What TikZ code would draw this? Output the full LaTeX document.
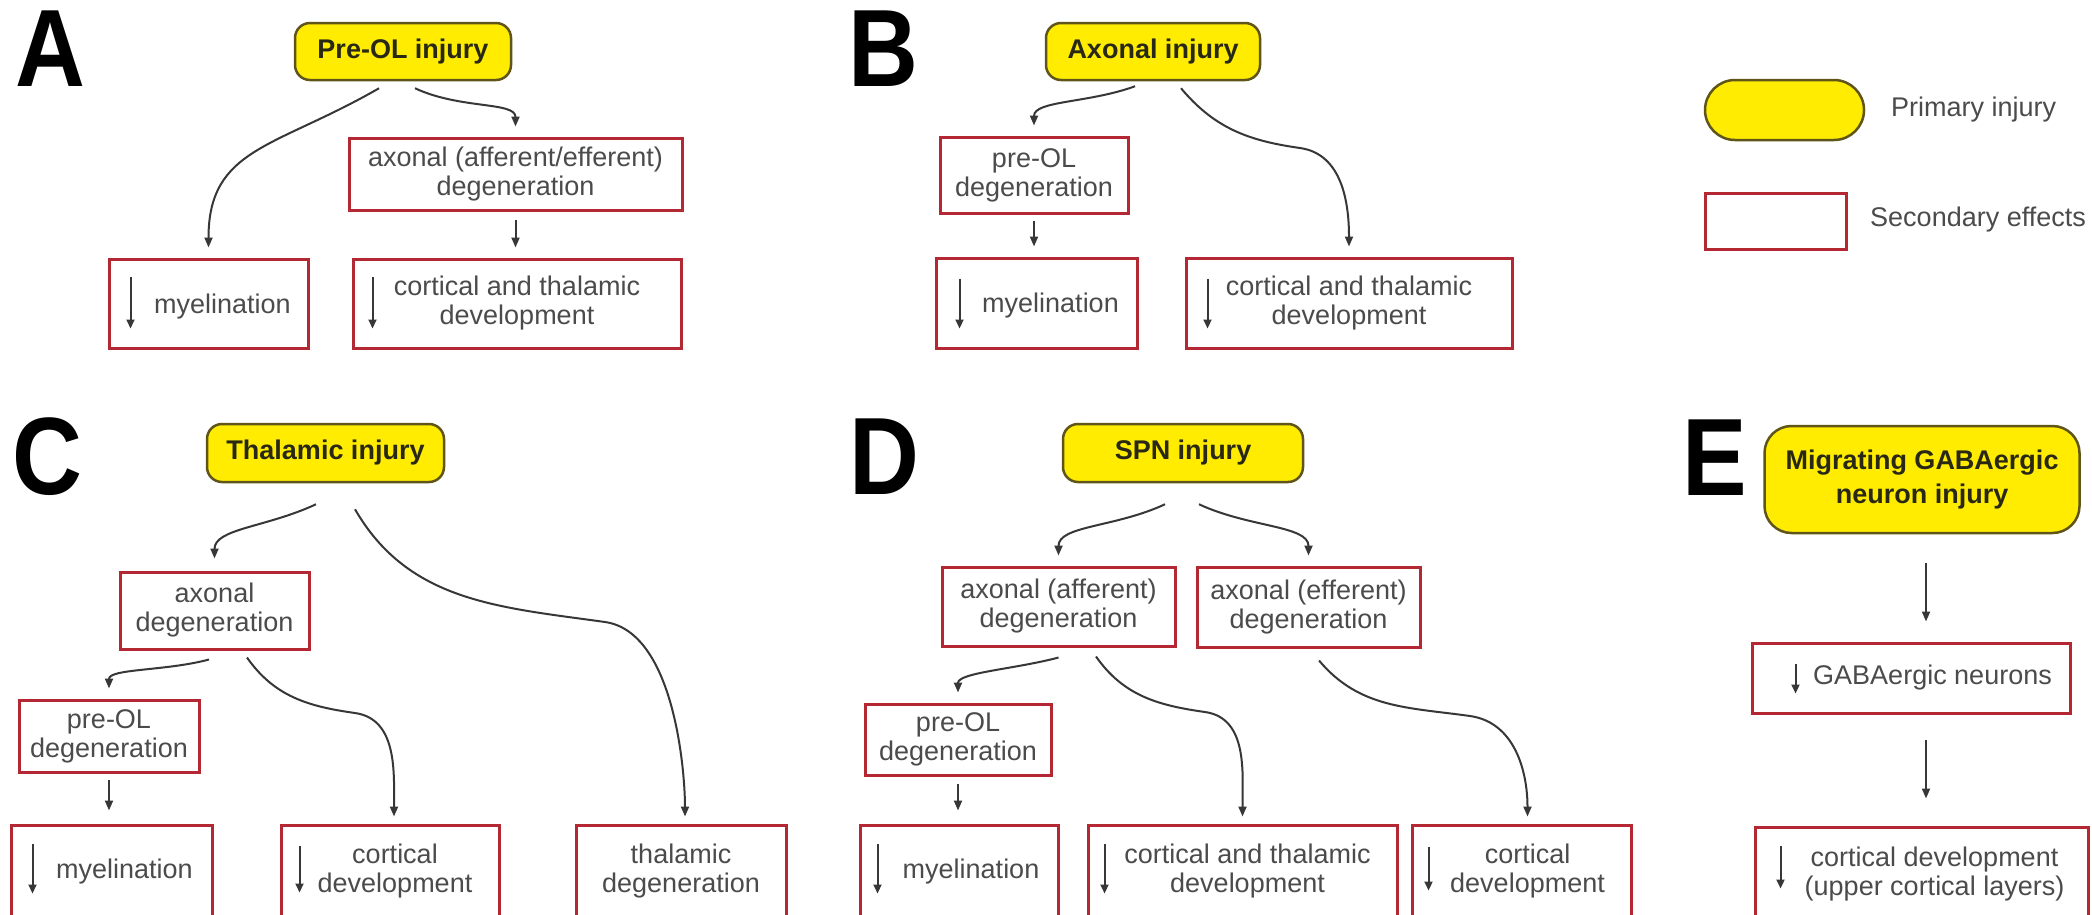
\documentclass[tikz,border=0pt]{standalone}
\usepackage{fontspec}
\usepackage{graphicx}
\setmainfont{Liberation Sans}
\usetikzlibrary{arrows.meta,calc}
\definecolor{boxred}{RGB}{180,40,52}
\definecolor{yfill}{RGB}{255,236,0}
\definecolor{ydraw}{RGB}{95,85,25}
\definecolor{txtgray}{RGB}{75,75,75}
\definecolor{ytext}{RGB}{40,40,20}
\definecolor{conncol}{RGB}{55,55,55}
\begin{document}
\begin{tikzpicture}[x=1pt,y=-1pt,
  prim/.style={draw=ydraw, fill=yfill, line width=2.5pt, rounded corners=15pt, font=\fontsize{27}{34}\selectfont\bfseries, text=ytext, align=center, inner sep=0pt},
  sec/.style={draw=boxred, line width=3pt, font=\fontsize{27}{29}\selectfont, text=txtgray, align=center, inner sep=0pt},
  txt/.style={font=\fontsize{27}{29}\selectfont, text=txtgray, align=center, inner sep=0pt},
  letter/.style={font=\fontsize{110}{110}\selectfont\bfseries, inner sep=0pt},
  arr/.style={draw=conncol, line width=2pt, -{Triangle[length=10pt,width=8pt]}},
  darr/.style={draw=conncol, line width=2pt, -{Triangle[length=9pt,width=8pt]}},
]
\fill[white] (0,0) rectangle (2092,914);
\useasboundingbox (0,0) rectangle (2092,914);

% ---------- Panel A ----------
\node[letter] (labA) at (50,49) {\scalebox{0.88}[1]{A}};
\node[prim, minimum width=216, minimum height=57] (pA) at (403,51.5) {Pre-OL injury};
\node[sec, minimum width=333, minimum height=72] (aA) at (515.5,174) {axonal (afferent/efferent)\\degeneration};
\node[sec, minimum width=199, minimum height=89] (mA) at (208.5,303.5) {};
\node[txt] (tmA) at ($(mA)+(14,3)$) {myelination};
\node[sec, minimum width=328, minimum height=89] (cA) at (517,303.5) {cortical and thalamic\\development};

\draw[arr] ([xshift=-24pt,yshift=-7pt]pA.south) to[out=-150,in=90,out distance=120pt,in distance=100pt] ([yshift=10pt]mA.north);
\draw[arr] ([xshift=12pt,yshift=-7pt]pA.south) to[out=-25,in=90,out distance=50pt,in distance=25pt] ([yshift=10pt]aA.north);
\draw[arr] ([yshift=-8pt]aA.south) -- ([yshift=10pt]aA.south |- cA.north);

\draw[darr] ($(mA.north west)+(23,19)$) -- ++(0,52);
\draw[darr] ($(cA.north west)+(21,19)$) -- ++(0,52);

% ---------- Panel B ----------
\node[letter] (labB) at (883,49) {\scalebox{0.88}[1]{B}};
\node[prim, minimum width=214, minimum height=57] (pB) at (1153,51.5) {Axonal injury};
\node[sec, minimum width=188, minimum height=76] (oB) at (1034,175) {pre-OL\\degeneration};
\node[sec, minimum width=201, minimum height=90] (mB) at (1036.5,303) {};
\node[txt] (tmB) at ($(mB)+(14,3)$) {myelination};
\node[sec, minimum width=326, minimum height=90] (cB) at (1349,303) {cortical and thalamic\\development};

\draw[arr] ([xshift=-18pt,yshift=-5pt]pB.south) to[out=-160,in=90,out distance=50pt,in distance=25pt] ([yshift=10pt]oB.north);
\draw[arr] ([xshift=28pt,yshift=-7pt]pB.south) to[out=-50,in=172] (1300,148) to[out=-8,in=90] ([yshift=10pt]cB.north);
\draw[arr] ([yshift=-6pt]oB.south) -- ([yshift=10pt]oB.south |- mB.north);

\draw[darr] ($(mB.north west)+(25,22)$) -- ++(0,50);
\draw[darr] ($(cB.north west)+(23,22)$) -- ++(0,50);

% ---------- Legend ----------
\node[prim, rounded corners=30pt, minimum width=159, minimum height=60] (legP) at (1784.5,110) {};
\node[txt, anchor=west] (legPt) at (1891,110) {Primary injury};
\node[sec, minimum width=141, minimum height=56] (legS) at (1775.5,221) {};
\node[txt, anchor=west] (legSt) at (1870,220) {Secondary effects};

% ---------- Panel C ----------
\node[letter] (labC) at (47,457) {\scalebox{0.88}[1]{C}};
\node[prim, minimum width=237, minimum height=58] (pC) at (325.5,453) {Thalamic injury};
\node[sec, minimum width=189, minimum height=77] (aC) at (214.5,610.5) {axonal\\degeneration};
\node[sec, minimum width=180, minimum height=72] (oC) at (109,736) {pre-OL\\degeneration};
\node[sec, minimum width=201, minimum height=92] (mC) at (111.5,871) {};
\node[txt] (tmC) at ($(mC)+(13,1)$) {myelination};
\node[sec, minimum width=218, minimum height=92] (cC) at (390,871) {};
\node[txt] (tcC) at ($(cC)+(5,0)$) {cortical\\development};
\node[sec, minimum width=210, minimum height=92] (dC) at (681,871) {thalamic\\degeneration};

\draw[arr] ([xshift=-9.5pt,yshift=-21pt]pC.south) to[out=-155,in=90,out distance=55pt,in distance=30pt] ([yshift=12pt]aC.north);
\draw[arr] ([xshift=29.5pt,yshift=-26pt]pC.south) to[out=-60,in=172] (605,622) to[out=-8,in=90,out distance=70pt,in distance=45pt] ([xshift=4pt,yshift=7pt]dC.north);
\draw[arr] ([xshift=-5.5pt,yshift=-9pt]aC.south) to[out=-165,in=90,out distance=45pt,in distance=20pt] ([yshift=10pt]oC.north);
\draw[arr] ([xshift=32.5pt,yshift=-7pt]aC.south) to[out=-55,in=172] (355,713) to[out=-8,in=90] ([xshift=4pt,yshift=7pt]cC.north);
\draw[arr] ([yshift=-6pt]oC.south) -- ([yshift=13pt]oC.south |- mC.north);

\draw[darr] ($(mC.north west)+(23,20)$) -- ++(0,50);
\draw[darr] ($(cC.north west)+(20,22)$) -- ++(0,47);

% ---------- Panel D ----------
\node[letter] (labD) at (884,457) {\scalebox{0.88}[1]{D}};
\node[prim, minimum width=240, minimum height=58] (pD) at (1183,453) {SPN injury};
\node[sec, minimum width=233, minimum height=79] (fD) at (1058.5,606.5) {axonal (afferent)\\degeneration};
\node[sec, minimum width=223, minimum height=80] (eD) at (1308.5,607) {axonal (efferent)\\degeneration};
\node[sec, minimum width=186, minimum height=71] (oD) at (958,739.5) {pre-OL\\degeneration};
\node[sec, minimum width=198, minimum height=92] (mD) at (959,871) {};
\node[txt] (tmD) at ($(mD)+(12,1)$) {myelination};
\node[sec, minimum width=309, minimum height=92] (cD) at (1242.5,871) {};
\node[txt] (tcD) at ($(cD)+(5,0)$) {cortical and thalamic\\development};
\node[sec, minimum width=219, minimum height=92] (kD) at (1521.5,871) {};
\node[txt] (tkD) at ($(kD)+(6,0)$) {cortical\\development};

\draw[arr] ([xshift=-18pt,yshift=-21pt]pD.south) to[out=-155,in=90,out distance=55pt,in distance=30pt] ([yshift=10pt]fD.north);
\draw[arr] ([xshift=16pt,yshift=-21pt]pD.south) to[out=-25,in=90,out distance=55pt,in distance=30pt] ([yshift=10pt]eD.north);
\draw[arr] ([yshift=-10pt]fD.south) to[out=-165,in=90,out distance=45pt,in distance=20pt] ([yshift=10pt]oD.north);
\draw[arr] ([xshift=37.5pt,yshift=-9pt]fD.south) to[out=-55,in=172] (1205,712) to[out=-8,in=90] ([yshift=7pt]cD.north);
\draw[arr] ([xshift=10.5pt,yshift=-12pt]eD.south) to[out=-50,in=172] (1470,716) to[out=-8,in=90] ([xshift=6pt,yshift=7pt]kD.north);
\draw[arr] ([yshift=-7pt]oD.south) -- ([yshift=13pt]oD.south |- mD.north);

\draw[darr] ($(mD.north west)+(19,20)$) -- ++(0,50);
\draw[darr] ($(cD.north west)+(18,20)$) -- ++(0,50);
\draw[darr] ($(kD.north west)+(18,23)$) -- ++(0,44);

% ---------- Panel E ----------
\node[letter] (labE) at (1715,458) {\scalebox{0.88}[1]{E}};
\node[prim, rounded corners=27pt, minimum width=315, minimum height=107] (pE) at (1922,479.5) {Migrating GABAergic\\neuron injury};
\node[sec, minimum width=318, minimum height=70] (gE) at (1911,678) {};
\node[txt] (tgE) at ($(gE)+(21.5,0)$) {GABAergic neurons};
\node[sec, minimum width=333, minimum height=92] (cE) at (1921.5,873) {};
\node[txt] (tcE) at ($(cE)+(13,1)$) {cortical development\\(upper cortical layers)};

\draw[arr] ($(pE.south)+(4,29)$) -- ($(pE.south |- gE.north)+(4,-20)$);
\draw[arr] ($(gE.south)+(15,25)$) -- ($(gE.south |- cE.north)+(15,-27)$);

\draw[darr] ($(gE.north west)+(45,22)$) -- ++(0,30);
\draw[darr] ($(cE.north west)+(27,20)$) -- ++(0,43);
\end{tikzpicture}
\end{document}
